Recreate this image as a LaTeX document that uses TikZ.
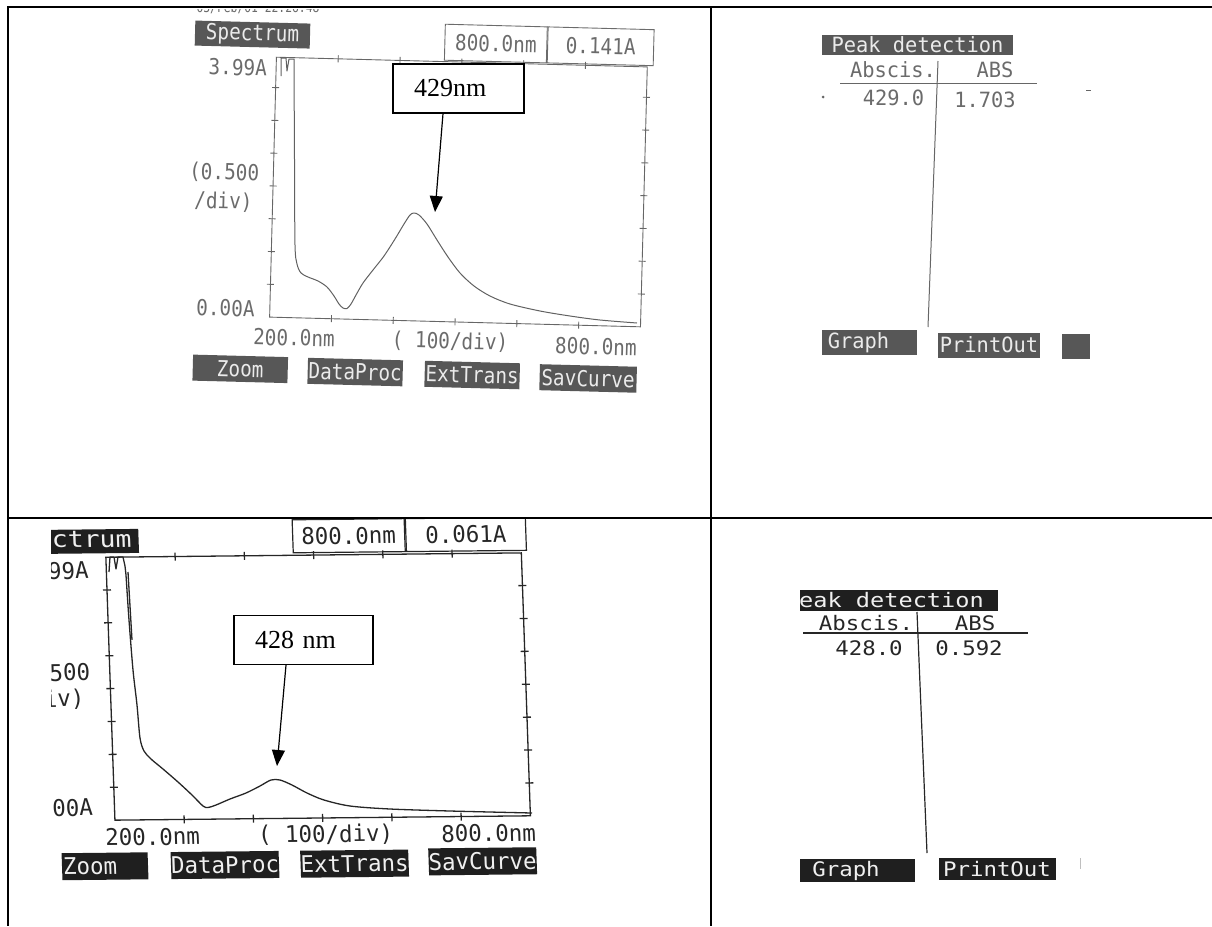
\documentclass[tikz,border=0pt]{standalone}
\usepackage{fontspec}
\setmainfont{Liberation Serif}
\newfontfamily\lcdfont{DejaVu Sans Mono}
\newcommand{\lcd}[2]{\lcdfont\fontsize{#1}{#1}\selectfont\addfontfeature{FakeStretch=#2}}
\usepackage{tikz}
\tikzset{
  rule/.style = {line width=2pt},
}
\usetikzlibrary{arrows.meta}

\begin{document}
\begin{tikzpicture}[
    x=1pt, y=-1pt,
    frameA/.style={draw=black!60,line width=0.9pt},
    traceA/.style={black!62,line width=1pt,line join=round},
    txtA/.style={text=black!58,inner sep=0pt,font=\lcd{22}{0.88}},
    keyA/.style={fill=black!66,text=black!8,inner sep=0pt,minimum height=26pt,font=\lcd{22}{0.88}},
    cellA/.style={draw=black!58,line width=0.9pt,text=black!58,inner sep=0pt,minimum height=36pt,font=\lcd{22}{0.88}},
    lineB/.style={draw=black!60,line width=1pt},
    txtB/.style={text=black!58,inner sep=0pt,font=\lcd{21}{0.97}},
    keyB/.style={fill=black!66,text=black!8,inner sep=0pt,minimum height=25pt,font=\lcd{21}{0.97}},
    frameC/.style={draw=black!85,line width=1.3pt},
    traceC/.style={black!85,line width=1.3pt,line join=round},
    txtC/.style={text=black!85,inner sep=0pt,font=\lcd{23}{0.975}},
    keyC/.style={fill=black!88,text=black!6,inner sep=0pt,minimum height=27pt,font=\lcd{23}{0.975}},
    cellC/.style={draw=black!85,line width=1.2pt,text=black!85,inner sep=0pt,minimum height=33pt,font=\lcd{23}{0.975}},
    lineD/.style={draw=black!85,line width=1.2pt},
    txtD/.style={text=black!85,inner sep=0pt,font=\lcd{20}{1.12}},
    keyD/.style={fill=black!88,text=black!6,inner sep=0pt,minimum height=23pt,font=\lcd{20}{1.12}},
    callout/.style={draw,line width=1.2pt,fill=white,font=\fontsize{26}{30}\selectfont,inner xsep=21pt,inner ysep=0pt,minimum height=49pt,align=left},
    pointer/.style={-{Triangle[length=16pt,width=13pt]},line width=1.2pt}
    ]
    \useasboundingbox (0,0) rectangle (1212,926);
    \draw[rule] (1212,7) -- (8,7) -- (8,926);
    \draw[rule] (8,518) -- (1212,518);
    \draw[rule] (711,7) -- (711,926);

    \begin{scope}
      \clip (185,9) rectangle (672,20);
      \node[txtA,font=\lcd{14}{0.81}] (stampA) at (258,8) {03/Feb/01 22:26:48};
    \end{scope}
    \begin{scope}[rotate around={-1.5:(458,190)},transform shape]
      \node[keyA,minimum width=115pt,minimum height=25pt] (specA) at (248.5,40) {Spectrum};
      \node[cellA,minimum width=102pt] (waveA) at (492,42.6) {800.0nm};
      \node[cellA,minimum width=106pt,anchor=west] (absA) at (waveA.east) {0.141A};
      \draw[frameA] (273,62) -- (644,62) -- (644,322) -- (273,322) -- cycle;
      \foreach \i in {1,...,5}
        \draw[frameA] ({273+61.83*\i},58.5) -- ({273+61.83*\i},65.5)
                      ({273+61.83*\i},318.5) -- ({273+61.83*\i},325.5);
      \foreach \j in {1,...,7}
        \draw[frameA] (269.5,{322-32.8*\j}) -- (276.5,{322-32.8*\j})
                      (640.5,{322-32.8*\j}) -- (647.5,{322-32.8*\j});
      \node[txtA,anchor=east] (topA) at (264,73) {3.99A};
      \node[txtA,anchor=east,align=center] (divA) at (259,193.5) {(0.500\\[7pt]/div)};
      \node[txtA,anchor=east] (zeroA) at (258,314) {0.00A};
      \node[txtA] (minA) at (298,342) {200.0nm};
      \node[txtA] (stepA) at (454,342) {( 100/div)};
      \node[txtA] (maxA) at (600,343) {800.0nm};
      \node[keyA,minimum width=95pt] (zoomA) at (245,374.5) {Zoom};
      \node[keyA,minimum width=95pt] (procA) at (360,374.7) {DataProc};
      \node[keyA,minimum width=95pt] (transA) at (477,374.6) {ExtTrans};
      \node[keyA,minimum width=97pt] (saveA) at (593,375) {SavCurve};
    \end{scope}
    \draw[traceA] (281,76) -- (281,58) -- (286,58) -- (287,71) -- (289,59) -- (294,59)
      -- plot[smooth,tension=0.5] coordinates {(294,62) (294.5,160) (295,245) (297,264)
      (301,273) (308,277) (318,281) (327,287) (334,296) (339,304) (343,308) (347,308.5)
      (351,304) (356,295) (363,283) (373,270) (384,256) (395,239) (404,224) (410,215)
      (414,213) (419,215) (427,224) (437,240) (448,257) (460,273) (474,286) (490,296)
      (510,304) (540,311) (570,316) (600,320) (637,323)};
    \node[callout,text width=89pt] (noteA) at (458.5,88.5) {429nm};
    \coordinate (peakA) at (435,212);
    \draw[pointer] ([xshift=-15.5pt]noteA.south) -- (peakA);

    \node[keyB,minimum width=191pt,minimum height=20pt] (peakB) at (917.5,45) {Peak detection};
    \node[txtB] (abscB) at (893,70) {Abscis.};
    \node[txtB] (absB) at (995,70) {ABS};
    \draw[lineB] (840,83) -- (1037,83);
    \draw[lineB] (938,61) -- (928,327);
    \node[txtB] (valB) at (893.5,98) {429.0};
    \node[txtB] (readB) at (985,100) {1.703};
    \node[keyB,minimum width=95pt] (graphB) at (869.5,342.5) {Graph\hspace*{22pt}};
    \node[keyB,minimum width=102pt] (printB) at (989,345) {PrintOut};
    \node[keyB,minimum width=28pt] (blankB) at (1076,346.5) {};
    \fill[black!60] (823,97) circle (1.5pt);
    \draw[lineB] (1086,90) -- (1091,90);

    \begin{scope}
      \clip (51,519) rectangle (545,926);
      \begin{scope}[shift={(320,690)},rotate=0.6,xslant=-0.024,shift={(-320,-690)},transform shape]
        \node[keyC,font=\lcd{23}{1.15},anchor=east,inner xsep=7pt,minimum height=24pt] (specC) at (144,539) {Spectrum};
        \node[cellC,minimum width=112pt] (waveC) at (354,536) {800.0nm};
        \node[cellC,minimum width=120pt,anchor=west] (absC) at (waveC.east) {0.061A};
        \draw[frameC] (110.5,555) -- (526,555) -- (526,818) -- (110.5,818) -- cycle;
        \foreach \i in {1,...,5}
          \draw[frameC] ({110.5+69.25*\i},551) -- ({110.5+69.25*\i},559)
                        ({110.5+69.25*\i},814) -- ({110.5+69.25*\i},822);
        \foreach \j in {1,...,7}
          \draw[frameC] (106.5,{818-32.9*\j}) -- (114.5,{818-32.9*\j})
                        (522,{818-32.9*\j}) -- (530,{818-32.9*\j});
        \node[txtC,anchor=east] (topC) at (93,568) {3.99A};
        \node[txtC,anchor=east,align=center] (divC) at (91,684) {(0.500\\[3pt]/div)};
        \node[txtC,anchor=east] (zeroC) at (89,805) {0.00A};
        \node[txtC] (minC) at (147.5,835) {200.0nm};
        \node[txtC] (stepC) at (320.6,835) {( 100/div)};
        \node[txtC] (maxC) at (483.6,835) {800.0nm};
        \node[keyC,minimum width=86pt] (zoomC) at (99,864) {Zoom\hspace*{30pt}};
        \node[keyC,minimum width=108pt] (procC) at (219,864) {DataProc};
        \node[keyC,minimum width=105pt] (transC) at (348.6,864) {ExtTrans};
        \node[keyC,minimum width=107pt] (saveC) at (476.7,863) {SavCurve};
      \end{scope}
      \draw[traceC] (109,572) -- (110,557) -- (114,557) -- (116,569) -- (118,557) -- (123,557) -- (125,566)
        -- plot[smooth,tension=0.5] coordinates {(126,575) (129,620) (133,670) (137,705)
        (140,738) (144,751) (151,759) (163,769) (178,782) (192,795) (203,806) (208,807.5)
        (216,805) (230,799) (246,793) (260,786) (271,780) (280,780) (292,785) (307,793)
        (324,800) (350,806) (390,809) (450,811) (532,813)};
      \draw[traceC] (128,572) -- (132,640);
    \end{scope}
    \node[callout,text width=97pt] (noteC) at (303.5,640) {428 nm};
    \coordinate (peakC) at (277,766);
    \draw[pointer] ([xshift=-17.5pt]noteC.south) -- (peakC);

    \begin{scope}
      \clip (800,519) rectangle (1212,926);
      \node[keyD,font=\lcd{20}{1.18},anchor=east,inner xsep=14pt,minimum height=21pt] (peakD) at (998,600) {Peak detection};
      \node[txtD] (abscD) at (866,623) {Abscis.};
      \node[txtD] (absD) at (975,623) {ABS};
      \draw[lineD] (803,633) -- (1028,633);
      \draw[lineD] (917,612) -- (927,853);
      \node[txtD] (valD) at (869,648) {428.0};
      \node[txtD] (readD) at (969,648) {0.592};
      \node[keyD,minimum width=116pt] (graphD) at (856.5,870.5) {Graph\hspace*{21pt}};
      \node[keyD,minimum width=117pt,minimum height=22pt] (printD) at (997,869) {PrintOut};
      \draw[black!25,line width=1pt] (1080,858) -- (1080,869);
    \end{scope}
  \end{tikzpicture}
\end{document}
